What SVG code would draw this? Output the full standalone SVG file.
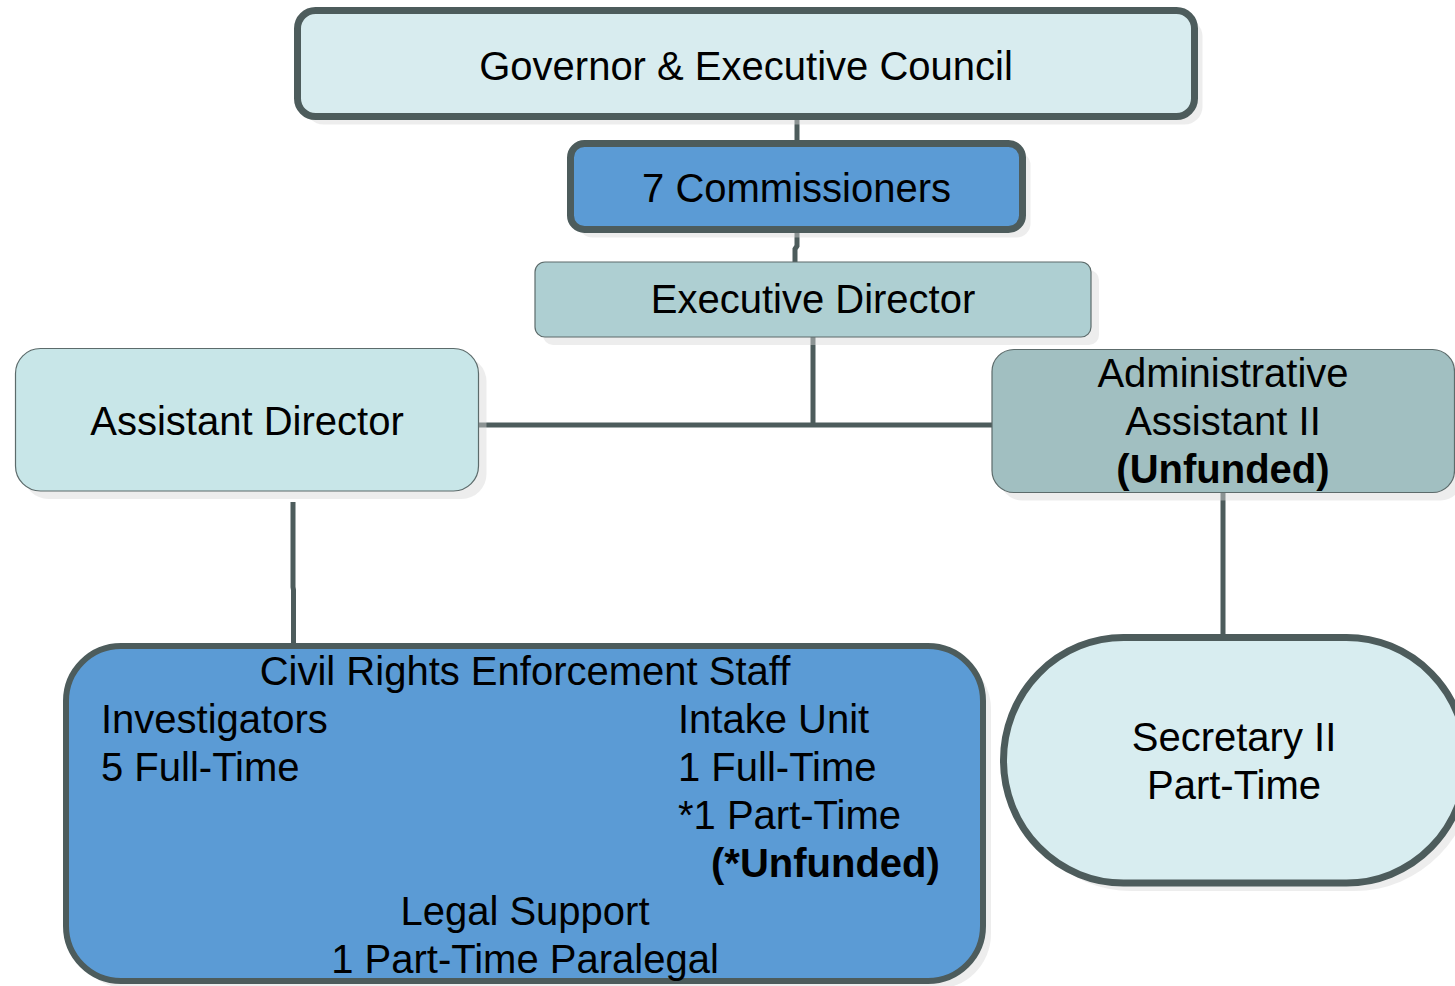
<svg xmlns="http://www.w3.org/2000/svg" width="1455" height="986" viewBox="0 0 1455 986">
<style>
.conn{fill:none;stroke:#4d5c5c;stroke-width:5}
.shadow{fill:#d8d8d8;opacity:0.45}
.thick{stroke:#4d5c5c;stroke-width:7}
.thin{stroke:#5c6b6b;stroke-width:1.2}
text{font-family:"Liberation Sans",Arial,sans-serif;font-size:40px;fill:#000}
.c{text-anchor:middle}
.b{font-weight:bold}
</style>
<rect width="1455" height="986" fill="#fff"/>
<g id="connectors">
<path class="conn" d="M797 120 V140"/>
<path class="conn" d="M797 233 V246 L795 249 V262"/>
<path class="conn" d="M813 337 V425"/>
<path class="conn" d="M479 425 H992"/>
<path class="conn" d="M293 502 V587 L293.5 590 V643"/>
<path class="conn" d="M1223 493 V634"/>
</g>
<g id="governor">
<rect class="shadow" x="305.5" y="18.5" width="897" height="106" rx="18"/>
<rect class="thick" x="297.5" y="10.5" width="897" height="106" rx="18" fill="#d8ecef"/>
<text class="c" x="746" y="80">Governor &amp; Executive Council</text>
</g>
<g id="commissioners">
<rect class="shadow" x="578.5" y="151.5" width="452" height="86" rx="14"/>
<rect class="thick" x="570.5" y="143.5" width="452" height="86" rx="14" fill="#5b9bd5"/>
<text class="c" x="796.5" y="202">7 Commissioners</text>
</g>
<g id="executive-director">
<rect class="shadow" x="543" y="270" width="556" height="75" rx="10"/>
<rect class="thin" x="535" y="262" width="556" height="75" rx="10" fill="#aecfd2"/>
<text class="c" x="813" y="313">Executive Director</text>
</g>
<g id="assistant-director">
<rect class="shadow" x="23.5" y="356.5" width="463" height="142.5" rx="25"/>
<rect class="thin" x="15.5" y="348.5" width="463" height="142.5" rx="25" fill="#c8e6e8"/>
<text class="c" x="247" y="435">Assistant Director</text>
</g>
<g id="admin-assistant">
<rect class="shadow" x="1000" y="357.5" width="462.5" height="143" rx="22"/>
<rect class="thin" x="992" y="349.5" width="462.5" height="143" rx="22" fill="#a1bfc1"/>
<text class="c" x="1223" y="387">Administrative</text>
<text class="c" x="1223" y="435">Assistant II</text>
<text class="c b" x="1223" y="483">(Unfunded)</text>
</g>
<g id="civil-rights-staff">
<rect class="shadow" x="74" y="654" width="917" height="335" rx="55"/>
<rect stroke="#4d5c5c" stroke-width="6" x="66" y="646" width="917" height="335" rx="55" fill="#5b9bd5"/>
<text class="c" x="525" y="685">Civil Rights Enforcement Staff</text>
<text x="101" y="733">Investigators</text>
<text x="101" y="781">5 Full-Time</text>
<text x="678" y="733">Intake Unit</text>
<text x="678" y="781">1 Full-Time</text>
<text x="678" y="829">*1 Part-Time</text>
<text class="b" x="711" y="877">(*Unfunded)</text>
<text class="c" x="525" y="925">Legal Support</text>
<text class="c" x="525" y="973">1 Part-Time Paralegal</text>
</g>
<g id="secretary">
<rect class="shadow" x="1011.5" y="645.5" width="463" height="245.5" rx="120" ry="122.75"/>
<rect class="thick" x="1003.5" y="637.5" width="463" height="245.5" rx="120" ry="122.75" fill="#d8edf0"/>
<text class="c" x="1234" y="751">Secretary II</text>
<text class="c" x="1234" y="799">Part-Time</text>
</g>
</svg>
